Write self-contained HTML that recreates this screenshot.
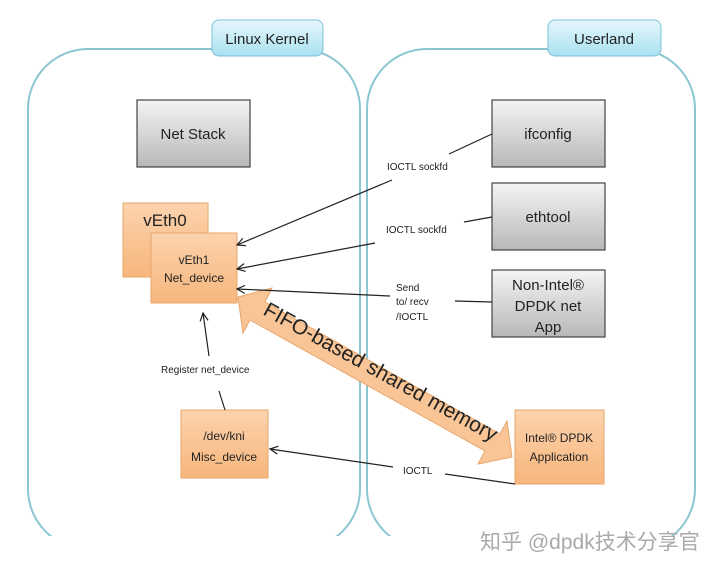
<!DOCTYPE html>
<html><head><meta charset="utf-8"><style>
html,body{margin:0;padding:0;background:#fff;}
svg{display:block;font-family:"Liberation Sans","Noto Sans CJK SC",sans-serif;}
</style></head><body>
<svg width="720" height="571" viewBox="0 0 720 571" xmlns="http://www.w3.org/2000/svg">
<defs>
<linearGradient id="g" x1="0" y1="0" x2="0" y2="1"><stop offset="0" stop-color="#f4f4f4"/><stop offset="1" stop-color="#b8b8b8"/></linearGradient>
<linearGradient id="o" x1="0" y1="0" x2="0" y2="1"><stop offset="0" stop-color="#fcd3ae"/><stop offset="1" stop-color="#f7b67c"/></linearGradient>
<linearGradient id="t" x1="0" y1="0" x2="0" y2="1"><stop offset="0" stop-color="#e6f7fc"/><stop offset="1" stop-color="#a9e1f0"/></linearGradient>
<marker id="a" markerWidth="10" markerHeight="10" refX="9" refY="5" orient="auto" markerUnits="userSpaceOnUse"><path d="M1,1 L9,5 L1,9" fill="none" stroke="#222" stroke-width="1.2"/></marker>
<clipPath id="c"><rect x="0" y="0" width="720" height="536"/></clipPath>
</defs>
<g clip-path="url(#c)" fill="none" stroke="#8cc6d3" stroke-width="2">
<rect x="28" y="49" width="332" height="500" rx="60"/>
<rect x="367" y="49" width="328" height="500" rx="60"/>
</g>
<rect x="212" y="20" width="111" height="36" rx="7" fill="url(#t)" stroke="#7cc3d8"/>
<text x="267" y="44" font-size="15" text-anchor="middle" fill="#222">Linux Kernel</text>
<rect x="548" y="20" width="113" height="36" rx="7" fill="url(#t)" stroke="#7cc3d8"/>
<text x="604" y="44" font-size="15" text-anchor="middle" fill="#222">Userland</text>

<g stroke="#444" stroke-width="1.2">
<rect x="137" y="100" width="113" height="67" fill="url(#g)"/>
<rect x="492" y="100" width="113" height="67" fill="url(#g)"/>
<rect x="492" y="183" width="113" height="67" fill="url(#g)"/>
<rect x="492" y="270" width="113" height="67" fill="url(#g)"/>
</g>
<g font-size="15" text-anchor="middle" fill="#222">
<text x="193" y="139">Net Stack</text>
<text x="548" y="139">ifconfig</text>
<text x="548" y="222">ethtool</text>
<text x="548" y="290">Non-Intel®</text>
<text x="548" y="311">DPDK net</text>
<text x="548" y="332">App</text>
</g>
<g stroke="#e7a66a" stroke-width="1">
<rect x="123" y="203" width="85" height="74" fill="url(#o)"/>
<rect x="151" y="233" width="86" height="70" fill="url(#o)"/>
<rect x="181" y="410" width="87" height="68" fill="url(#o)"/>
<rect x="515" y="410" width="89" height="74" fill="url(#o)"/>
</g>
<g fill="#222" text-anchor="middle">
<text x="165" y="226" font-size="17">vEth0</text>
<text x="194" y="264" font-size="12">vEth1</text>
<text x="194" y="282" font-size="12">Net_device</text>
<text x="224" y="440" font-size="12">/dev/kni</text>
<text x="224" y="461" font-size="12">Misc_device</text>
<text x="559" y="442" font-size="12">Intel® DPDK</text>
<text x="559" y="461" font-size="12">Application</text>
</g>

<polygon points="238,297 272,288 265,302 500,434 507,421 512,457 478,464 485,451 250,320 243,333" fill="#f9c596" stroke="#e9a66a" stroke-width="1"/>
<text x="0" y="0" font-size="21" fill="#222" transform="translate(262,314) rotate(29)">FIFO-based shared memory</text>

<g stroke="#222" stroke-width="1.2" fill="none">
<path d="M492,134 L449,154"/><path d="M392,180 L237,245" marker-end="url(#a)"/>
<path d="M492,217 L464,222"/><path d="M375,243 L237,269" marker-end="url(#a)"/>
<path d="M492,302 L455,301"/><path d="M390,296 L237,289" marker-end="url(#a)"/>
<path d="M515,484 L445,474"/><path d="M393,467 L270,449" marker-end="url(#a)"/>
<path d="M225,410 L219,391"/><path d="M209,356 L203,313" marker-end="url(#a)"/>
</g>
<g font-size="10" fill="#222">
<text x="387" y="170">IOCTL sockfd</text>
<text x="386" y="233">IOCTL sockfd</text>
<text x="396" y="291">Send</text>
<text x="396" y="305">to/ recv</text>
<text x="396" y="320">/IOCTL</text>
<text x="403" y="474">IOCTL</text>
<text x="161" y="373">Register net_device</text>
</g>
<text x="480" y="549" font-size="21" fill="#aaa">知乎 @dpdk技术分享官</text>
</svg>
</body></html>
